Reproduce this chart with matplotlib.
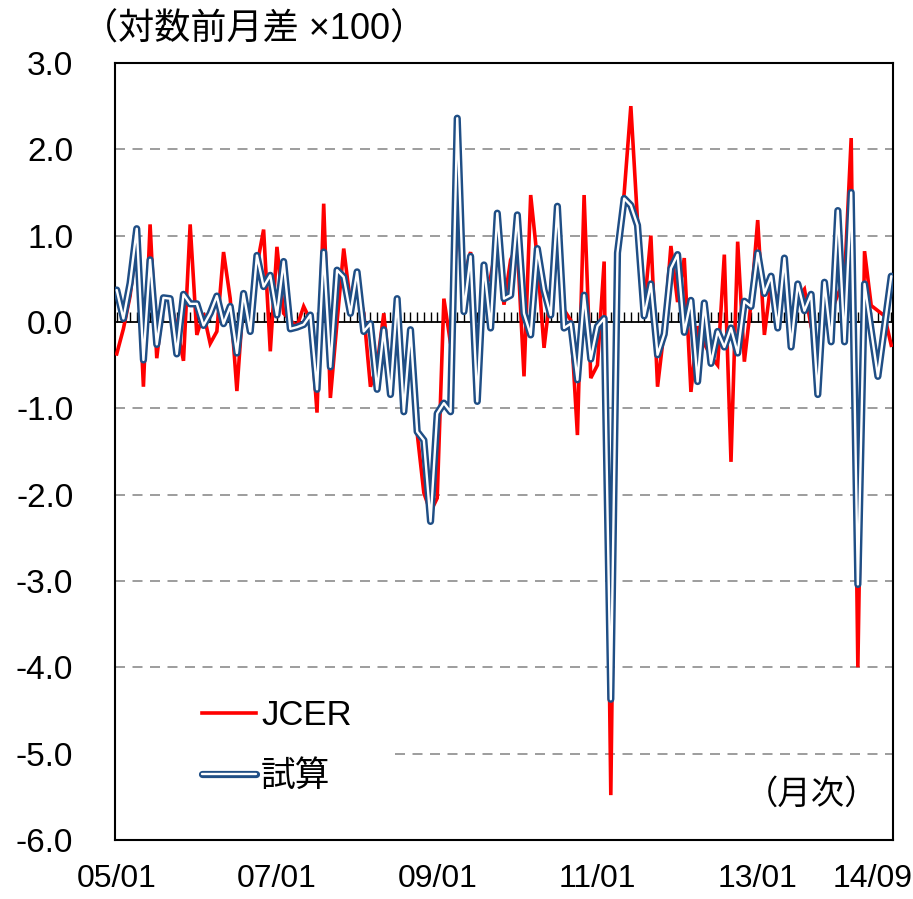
import numpy as np
import matplotlib
matplotlib.use("Agg")
import matplotlib.pyplot as plt

# monthly data 2005/01 - 2014/09 (log diff x100)
jcer = [-0.37, -0.08, 0.30, 0.95, -0.75, 1.13, -0.42, 0.27, 0.25, -0.06, -0.45, 1.13,
        -0.15, 0.10, -0.25, -0.11, 0.81, 0.27, -0.80, 0.30, -0.05, 0.65, 1.07, -0.34,
        0.87, 0.10, 0.02, -0.05, 0.18, 0.02, -1.05, 1.37, -0.88, 0.00, 0.85, 0.22,
        0.41, 0.10, -0.75, -0.50, 0.10, -0.67, -0.17, -0.63, -0.40, -1.29, -1.98, -2.20,
        -2.04, 0.27, -0.25, 1.14, 0.52, 0.81, -0.88, 0.41, 0.52, 0.95, 0.20, 0.72,
        0.89, -0.63, 1.47, 0.72, -0.30, 0.37, 1.26, 0.14, 0.02, -1.31, 1.47, -0.65,
        -0.50, 0.70, -5.48, 0.85, 1.49, 2.50, 1.17, 0.15, 1.00, -0.75, -0.09, 0.88,
        0.23, 0.74, -0.81, -0.05, -0.25, -0.40, -0.50, 0.78, -1.62, 0.93, -0.46, 0.22,
        1.18, -0.15, 0.47, 0.24, 0.53, -0.27, 0.28, 0.38, -0.05, -0.33, 0.15, 0.11,
        0.32, 0.48, 2.13, -4.00, 0.82, 0.19, 0.13, 0.07, -0.27]
shisan = [0.37, 0.04, 0.45, 1.08, -0.44, 0.72, -0.26, 0.28, 0.27, -0.37, 0.32, 0.21,
          0.21, -0.04, 0.10, 0.30, -0.02, 0.18, -0.36, 0.33, -0.11, 0.77, 0.41, 0.54,
          0.08, 0.70, -0.08, -0.06, -0.03, 0.08, -0.78, 0.81, -0.52, 0.60, 0.52, 0.10,
          0.58, -0.11, -0.02, -0.78, -0.09, -0.84, 0.27, -1.04, -0.09, -1.27, -1.37, -2.31,
          -1.06, -0.94, -1.04, 2.36, 0.12, 0.76, -0.92, 0.66, -0.07, 1.26, 0.27, 0.31,
          1.24, 0.10, -0.15, 0.85, 0.37, 0.08, 1.34, -0.07, -0.02, -0.67, 0.31, -0.43,
          -0.05, 0.04, -4.37, 0.80, 1.43, 1.35, 1.12, 0.07, 0.44, -0.38, -0.14, 0.62,
          0.78, -0.12, 0.25, -0.69, 0.22, -0.48, -0.11, -0.29, -0.07, -0.36, 0.24, 0.18,
          0.80, 0.33, 0.53, -0.07, 0.74, -0.29, 0.44, 0.13, 0.32, -0.84, 0.46, -0.23,
          1.29, -0.23, 1.50, -3.04, 0.44, -0.10, -0.63, -0.05, 0.53]
xtick_labels = ["05/01", "07/01", "09/01", "11/01", "13/01", "14/09"]
xtick_months = [0, 24, 48, 72, 96, 116]
yticks = [3, 2, 1, 0, -1, -2, -3, -4, -5, -6]

plt.rcParams["font.family"] = ["Liberation Sans", "Noto Sans CJK JP"]

months = np.arange(len(jcer))

fig = plt.figure(figsize=(9.13, 8.99), dpi=100)
ax = fig.add_axes([0.126, 0.0656, 0.852, 0.8644])

# grid lines (the -5 one is hidden behind the legend on the left)
for v in [2, 1, -1, -2, -3, -4, -5]:
    ax.axhline(v, xmin=0.36 if v == -5 else 0, color="#8c8c8c", lw=1.2,
               dashes=(6, 4.5), zorder=1)

# zero axis with monthly ticks pointing up
ax.axhline(0, color="black", lw=1.3, zorder=2)
ax.vlines(months, 0, 0.12, color="black", lw=1.0, zorder=2)

ax.plot(months, jcer, color="#ff0000", lw=2.6, zorder=3, solid_joinstyle="miter")
l_out, = ax.plot(months, shisan, color="#1f4e85", lw=5.2, zorder=4,
                 solid_joinstyle="round", solid_capstyle="round")
l_in, = ax.plot(months, shisan, color="white", lw=1.7, zorder=5,
                solid_joinstyle="round", solid_capstyle="round")
l_red = plt.Line2D([], [], color="#ff0000", lw=2.6)

ax.set_xlim(-0.25, len(jcer) - 1 + 0.25)
ax.set_ylim(-6, 3)
ax.set_yticks(yticks)
ax.set_yticklabels(["%.1f" % v for v in yticks], fontsize=24)
ax.tick_params(axis="y", length=0, pad=30)

# last label sits a bit to the left so it stays inside the image
ax.set_xticks([m if m != xtick_months[-1] else m - 2.8 for m in xtick_months])
ax.set_xticklabels(xtick_labels, fontsize=23)
ax.tick_params(axis="x", length=0, pad=17)

for s in ax.spines.values():
    s.set_linewidth(1.5)

fig.text(0.09, 0.967, "（対数前月差 ×100）", fontsize=26, ha="left", va="center")
ax.text(0.896, 0.058, "（月次）", fontsize=24, ha="center", va="center",
        transform=ax.transAxes)

ax.legend([l_red, (l_out, l_in)], ["JCER", "試算"], loc="center left",
          bbox_to_anchor=(0.112, 0.121), frameon=False, fontsize=25,
          handlelength=1.55, handletextpad=0.15, labelspacing=0.8,
          borderpad=0, borderaxespad=0)

plt.savefig("out.png", dpi=100)
